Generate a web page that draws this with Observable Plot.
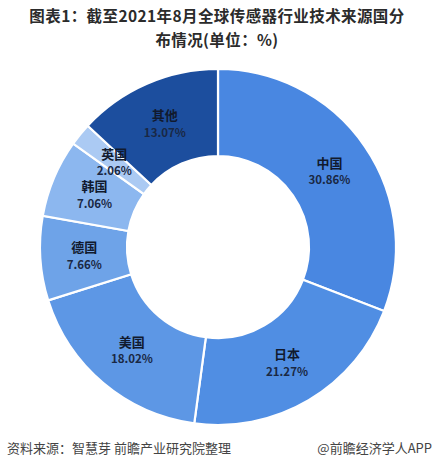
<!DOCTYPE html>
<html>
<head>
<meta charset="utf-8">
<script src="https://cdn.jsdelivr.net/npm/d3@7"></script>
<script src="https://cdn.jsdelivr.net/npm/@observablehq/plot@0.6"></script>
<style>
  html, body { margin: 0; padding: 0; background: #fff; }
  body { width: 434px; height: 474px; position: relative; overflow: hidden; font-family: "Noto Sans CJK SC", "Noto Sans", sans-serif; }
  .title { position: absolute; left: 0; width: 434px; text-align: center; font-weight: bold; font-size: 15.5px; line-height: 19px; letter-spacing: 0.4px; color: #2b2b2b; white-space: nowrap; }
  #t1 { top: 6px; }
  #t2 { top: 30px; }
  #chart { position: absolute; top: 60px; left: 0; }
  #source { position: absolute; top: 438px; left: 7px; font-size: 13px; color: #444; }
  #brand { position: absolute; top: 438px; right: 2px; font-size: 13px; color: #444; }
</style>
</head>
<body>
<div class="title" id="t1">图表1：截至2021年8月全球传感器行业技术来源国分</div>
<div class="title" id="t2">布情况(单位：%)</div>
<div id="chart"></div>
<div id="source">资料来源：智慧芽 前瞻产业研究院整理</div>
<div id="brand">@前瞻经济学人APP</div>
<script>
const countries = ["中国", "日本", "美国", "德国", "韩国", "英国", "其他"];
const shares = [30.86, 21.27, 18.02, 7.66, 7.06, 2.06, 13.07];
const colors = ["#4987e1", "#508ee3", "#5d97e5", "#6ea3e8", "#8cb7ef", "#abcaf3", "#1c4e9e"];

const W = 434, H = 374;
const outerR = 178, innerR = 91;

const table = countries.map((c, i) => ({ country: c, share: shares[i], color: colors[i] }));
const pie = d3.pie().sort(null).value(d => d.share).startAngle(0).endAngle(2 * Math.PI);
const arcs = pie(table);
const arcGen = d3.arc().innerRadius(innerR).outerRadius(outerR);
const labels = arcs.map(a => {
  const [cx, cy] = arcGen.centroid(a);
  return { x: cx, y: -cy, name: a.data.country, value: a.data.share.toFixed(2) + "%" };
});

function donutMark(index, scales) {
  const sx = scales.x, sy = scales.y;
  const x0 = sx(0), y0 = sy(0);
  const k = Math.abs(sx(1) - sx(0));
  const g = d3.create("svg:g").attr("transform", `translate(${x0},${y0})`);
  const gen = d3.arc().innerRadius(innerR * k).outerRadius(outerR * k);
  g.selectAll("path").data(arcs).join("path")
    .attr("d", gen)
    .attr("fill", d => d.data.color)
    .attr("stroke", "#fff")
    .attr("stroke-width", 2.2)
    .attr("stroke-linejoin", "miter");
  return g.node();
}

const chart = Plot.plot({
  width: W,
  height: H,
  marginLeft: 2, marginRight: 0, marginTop: 0, marginBottom: 0,
  x: { domain: [-216, 216], axis: null },
  y: { domain: [-187, 187], axis: null },
  style: { background: "transparent", fontFamily: "'Noto Sans CJK SC', sans-serif" },
  marks: [
    donutMark,
    Plot.text(labels, { x: "x", y: "y", text: "name", dy: -8, fontSize: 13, fontWeight: "bold", fill: "#111a2e" }),
    Plot.text(labels, { x: "x", y: "y", text: "value", dy: 9, fontSize: 11.5, fontWeight: "bold", fill: "#1a2844" })
  ]
});
document.getElementById("chart").appendChild(chart);
</script>
</body>
</html>
